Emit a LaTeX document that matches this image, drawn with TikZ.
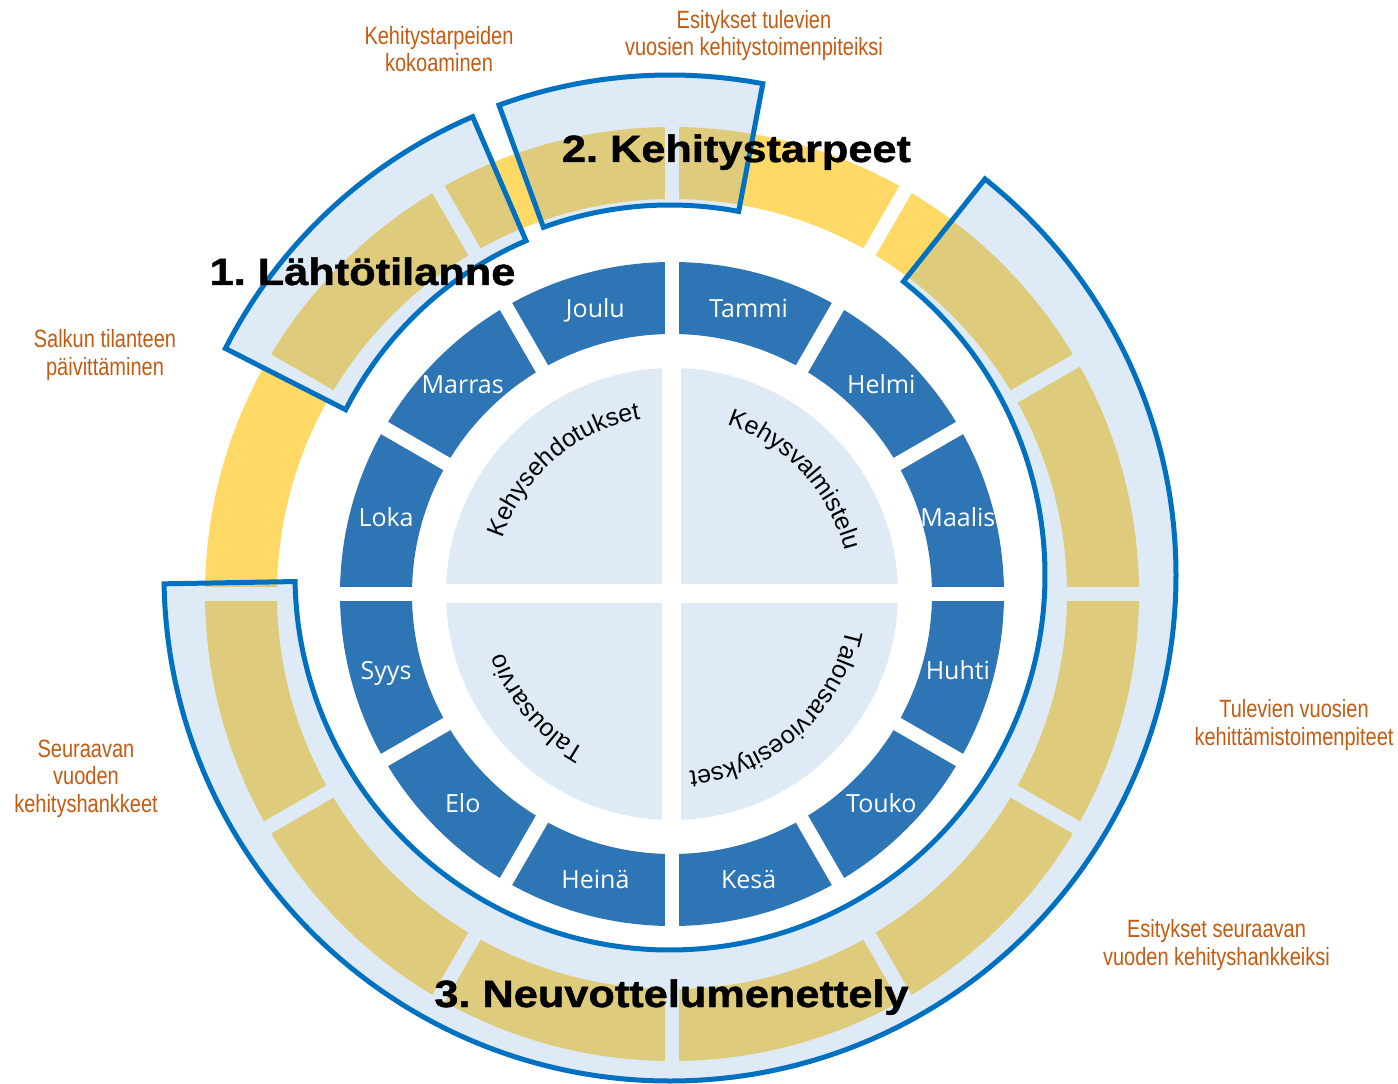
\documentclass[tikz,border=0pt]{standalone}
\usepackage{fontspec}
\usetikzlibrary{decorations.text}

\newfontfamily\headfont{Liberation Sans}[FakeStretch=1.14, BoldFeatures={FakeBold=1.2}]
\newfontfamily\notefont{Liberation Sans}[FakeStretch=0.8]
\newfontfamily\arcfont{Liberation Sans}
\newfontfamily\monthfont{Open Sans}

\definecolor{monthblue}{HTML}{2E75B6}
\definecolor{quadblue}{HTML}{DEEBF7}
\definecolor{ringyellow}{HTML}{FFD966}
\definecolor{phasefill}{HTML}{5B9BD5}
\definecolor{phaseline}{HTML}{0070C0}
\definecolor{noteorange}{HTML}{C55A11}

\begin{document}
\begin{tikzpicture}[x=1pt, y=1pt,
    gapline/.style={white, line width=14pt},
    monthlabel/.style={text=white, anchor=base, yshift=-9pt, font=\monthfont\fontsize{25}{30}\selectfont},
    phasebox/.style={fill=phasefill, fill opacity=0.2, draw=phaseline, line width=5pt},
    heading/.style={anchor=base, font=\headfont\bfseries\frenchspacing\fontsize{38}{44}\selectfont},
    note/.style={text=noteorange, align=center, font=\notefont\fontsize{25}{27.5}\selectfont},
    arctext/.style={decorate, decoration={text along path, text align=center,
        text={|\arcfont\fontsize{25}{30}\selectfont|#1}}}]
    % Set ring radii
    \pgfmathsetmacro{\quadr}{226}
    \pgfmathsetmacro{\monthin}{260}
    \pgfmathsetmacro{\monthout}{332}
    \pgfmathsetmacro{\ringin}{395}
    \pgfmathsetmacro{\ringout}{467}

    \useasboundingbox (-672,-490) rectangle (726,594);

    % Draw inner quarters
    \fill[quadblue] (0,0) circle[radius=\quadr pt];
    \draw[white, line width=19pt] (-\quadr-5,0) -- (\quadr+5,0);
    \draw[white, line width=19pt] (0,-\quadr-5) -- (0,\quadr+5);

    % Draw month ring and yellow ring
    \fill[monthblue, even odd rule] (0,0) circle[radius=\monthout pt] (0,0) circle[radius=\monthin pt];
    \fill[ringyellow, even odd rule] (0,0) circle[radius=\ringout pt] (0,0) circle[radius=\ringin pt];
    \foreach \a in {0,30,...,330} {
        \draw[gapline] (\a:\monthin-5 pt) -- (\a:\monthout+5 pt);
        \draw[gapline] (\a:\ringin-5 pt) -- (\a:\ringout+5 pt);
    }

    % Draw phase boxes over the yellow ring
    \begin{scope}[shift={(-2,19)}]
        % Lähtötilanne
        \filldraw[phasebox] (113.3:364pt) arc[start angle=113.3, end angle=153, radius=364pt]
            -- (153:499pt) arc[start angle=153, end angle=113.3, radius=499pt] -- cycle;
        % Kehitystarpeet
        \filldraw[phasebox] (79.3:370pt) arc[start angle=79.3, end angle=110, radius=370pt]
            -- (110:500pt) arc[start angle=110, end angle=79.3, radius=500pt] -- cycle;
        % Neuvottelumenettely
        \filldraw[phasebox] (51.5:375pt) arc[start angle=51.5, end angle=-179, radius=375pt]
            -- (-179:506pt) arc[start angle=-179, end angle=51.5, radius=506pt] -- cycle;
    \end{scope}

    % Month labels
    \foreach \m [count=\i] in {Tammi,Helmi,Maalis,Huhti,Touko,Kesä,Heinä,Elo,Syys,Loka,Marras,Joulu}
        \node[monthlabel] (month\i) at ({75-30*(\i-1)}:296pt) {\m};

    % Curved texts in the quarters
    \path[arctext=Kehysehdotukset] (171:178pt) arc[start angle=171, end angle=91, radius=178pt];
    \path[arctext=Kehysvalmistelu] (83:178pt) arc[start angle=83, end angle=3, radius=178pt];
    \path[arctext=Talousarvioesitykset] (-3:178pt) arc[start angle=-3, end angle=-93, radius=178pt];
    \path[arctext=Talousarvio] (250:178pt) arc[start angle=250, end angle=190, radius=178pt];

    % Phase headings
    \node[heading] (lahto) at (-309.5,309) {1. Lähtötilanne};
    \node[heading] (tarpeet) at (64.5,432) {2. Kehitystarpeet};
    \node[heading] (neuvottelu) at (-0.5,-413) {3. Neuvottelumenettely};

    % Orange notes
    \node[note] (kokoaminen) at (-233,545) {Kehitystarpeiden\\kokoaminen};
    \node[note] (esitykset) at (82,558.5) {Esitykset tulevien\\vuosien kehitystoimenpiteiksi};
    \node[note] (salkku) at (-567,239) {Salkun tilanteen\\päivittäminen};
    \node[note] (tulevat) at (622,-131) {Tulevien vuosien\\kehittämistoimenpiteet};
    \node[note] (seuraavat) at (544.5,-351) {Esitykset seuraavan\\vuoden kehityshankkeiksi};
    \node[note] (hankkeet) at (-586,-184.5) {Seuraavan\\vuoden\\kehityshankkeet};
\end{tikzpicture}
\end{document}
